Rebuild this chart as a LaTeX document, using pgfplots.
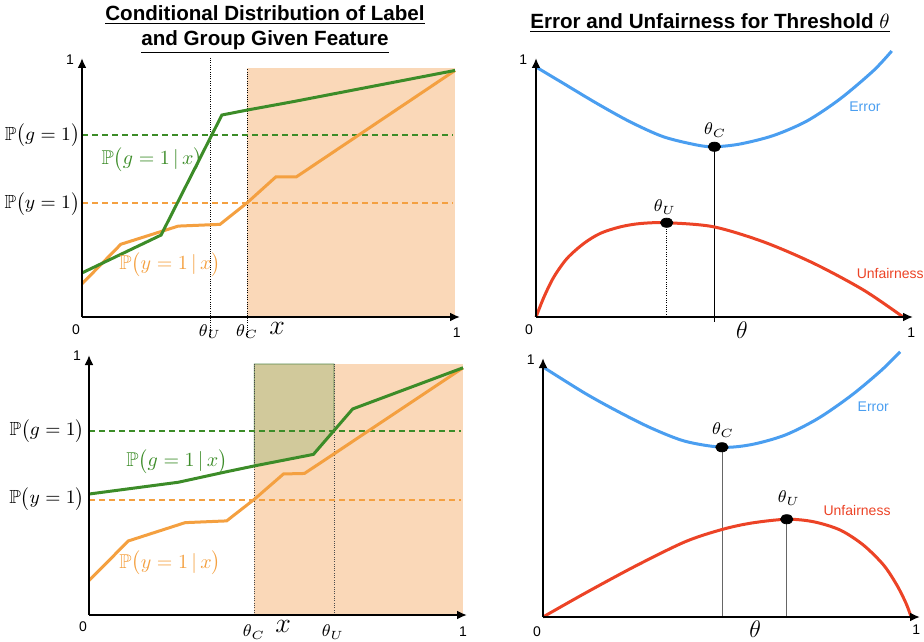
\documentclass[border=0pt]{standalone}
\usepackage{fix-cm}
\usepackage{amssymb}
\usepackage{fontspec}
\newfontfamily\hel{Liberation Sans}
\usepackage{pgfplots}
\pgfplotsset{compat=1.18}
\usetikzlibrary{arrows.meta}
\definecolor{cgreen}{RGB}{60,140,40}
\definecolor{corange}{RGB}{244,160,64}
\definecolor{cpeach}{RGB}{250,216,184}
\definecolor{colive}{RGB}{209,201,155}
\definecolor{cblue}{RGB}{74,158,240}
\definecolor{cred}{RGB}{236,67,38}
\pgfplotsset{
  panel/.style={scale only axis, axis lines=left,
    axis line style={line width=1.1pt, -{Latex[length=5pt,width=4.5pt]}},
    xmin=0, ymin=0, xtick=\empty, ytick=\empty, clip=false,
    anchor=south west, axis on top},
  curve/.style={line width=1.5pt},
  hdash/.style={line width=0.85pt, dash pattern=on 3pt off 2pt},
  vdot/.style={line width=0.45pt, dash pattern=on 0.45pt off 0.7pt, black},
}
\tikzset{plab/.style={anchor=east, inner sep=0pt, font=\fontsize{9.5}{11}\selectfont}}
\newcommand{\tk}{\hel\fontsize{7}{8}\selectfont}
\newcommand{\thsz}{\fontsize{8.5}{10}\selectfont}
\begin{document}
\begin{tikzpicture}
\path[use as bounding box] (0,0) rectangle (462pt,-320.5pt);
% titles
\node[align=center, font=\hel\bfseries\fontsize{10.3}{12.5}\selectfont] at (132.5pt,-14.75pt)
  {\underline{Conditional Distribution of Label}\\\underline{and Group Given Feature}};
\node[font=\hel\bfseries\fontsize{10.3}{12.5}\selectfont] at (355pt,-11.5pt)
  {\underline{Error and Unfairness for Threshold $\theta$}};

% ---------------- top left
\begin{axis}[panel, at={(41pt,-158.5pt)}, width=189pt, height=129.5pt, xmax=1.0134, ymax=1.04]
\addplot[draw=none, fill=cpeach] coordinates {(0.443,0) (1,0) (1,1) (0.443,1)} -- cycle;
\addplot[vdot] coordinates {(0.345,-0.08) (0.345,1.04)};
\addplot[vdot] coordinates {(0.443,-0.08) (0.443,1)};
\addplot[hdash, cgreen] coordinates {(0,0.731) (0.995,0.731)};
\addplot[hdash, corange] coordinates {(0,0.459) (0.995,0.459)};
\addplot[curve, corange] coordinates {(0,0.133) (0.104,0.292) (0.258,0.365) (0.370,0.372) (0.443,0.459) (0.520,0.563) (0.575,0.563) (1,0.99)};
\addplot[curve, cgreen] coordinates {(0,0.177) (0.212,0.329) (0.375,0.811) (0.443,0.831) (0.567,0.865) (1,0.99)};
\node[plab] at (-0.005,0.731) {$\mathbb{P}\big(g=1\big)$};
\node[plab] at (-0.005,0.456) {$\mathbb{P}\big(y=1\big)$};
\node[text=cgreen] at (0.188,0.631) {$\mathbb{P}\big(g=1\,|\,x\big)$};
\node[text=corange] at (0.236,0.209) {$\mathbb{P}\big(y=1\,|\,x\big)$};
\node at (0.343,-0.06) {\thsz$\theta_U$};
\node at (0.443,-0.06) {\thsz$\theta_C$};
\node at (0.523,-0.045) {\fontsize{14}{16}\selectfont$x$};
\node at (-0.016,-0.052) {\tk 0};
\node at (1.005,-0.064) {\tk 1};
\node at (-0.032,1.032) {\tk 1};
\end{axis}

% ---------------- bottom left
\begin{axis}[panel, at={(44.5pt,-307.5pt)}, width=189pt, height=130pt, xmax=1.0107, ymax=1.036]
\addplot[draw=none, fill=cpeach] coordinates {(0.442,0) (1,0) (1,1) (0.442,1)} -- cycle;
\addplot[fill=colive, draw=cgreen!60!gray, line width=0.4pt] coordinates {(0.442,0.594) (0.600,0.640) (0.655,0.735) (0.655,1) (0.442,1)} -- cycle;
\addplot[vdot, black!70] coordinates {(0.442,0) (0.442,1)};
\addplot[vdot, black!70] coordinates {(0.655,0) (0.655,1)};
\addplot[hdash, cgreen] coordinates {(0,0.734) (0.995,0.734)};
\addplot[hdash, corange] coordinates {(0,0.458) (0.995,0.458)};
\addplot[curve, corange] coordinates {(0,0.137) (0.105,0.295) (0.257,0.368) (0.368,0.375) (0.442,0.461) (0.520,0.562) (0.576,0.564) (0.653,0.640) (1,0.985)};
\addplot[curve, cgreen] coordinates {(0,0.482) (0.239,0.529) (0.368,0.571) (0.442,0.594) (0.600,0.640) (0.705,0.821) (1,0.985)};
\node[plab] at (-0.011,0.734) {$\mathbb{P}\big(g=1\big)$};
\node[plab] at (-0.011,0.465) {$\mathbb{P}\big(y=1\big)$};
\node[text=cgreen] at (0.235,0.610) {$\mathbb{P}\big(g=1\,|\,x\big)$};
\node[text=corange] at (0.217,0.207) {$\mathbb{P}\big(y=1\,|\,x\big)$};
\node at (0.441,-0.068) {\thsz$\theta_C$};
\node at (0.519,-0.045) {\fontsize{14}{16}\selectfont$x$};
\node at (0.652,-0.068) {\thsz$\theta_U$};
\node at (-0.016,-0.048) {\tk 0};
\node at (1.0,-0.068) {\tk 1};
\node at (-0.032,1.032) {\tk 1};
\end{axis}

% ---------------- top right
\begin{axis}[panel, at={(268pt,-158.5pt)}, width=188.5pt, height=129.5pt, xmax=1.027, ymax=1.036]
\addplot[line width=0.5pt, black] coordinates {(0.486,-0.02) (0.486,0.681)};
\addplot[vdot] coordinates {(0.356,0) (0.356,0.377)};
\addplot[curve, cblue, smooth] coordinates {(0,1.0) (0.074,0.935) (0.165,0.855) (0.256,0.781) (0.347,0.721) (0.438,0.688) (0.486,0.681) (0.556,0.692) (0.647,0.726) (0.738,0.784) (0.828,0.872) (0.919,0.985) (0.969,1.064)};
\addplot[curve, cred, smooth] coordinates {(0,0) (0.022,0.081) (0.049,0.161) (0.085,0.235) (0.131,0.295) (0.176,0.335) (0.231,0.361) (0.285,0.374) (0.356,0.377) (0.483,0.361) (0.619,0.301) (0.756,0.215) (0.892,0.108) (1,0)};
\addplot[only marks, mark=*, mark size=2.3pt, mark options={black, xscale=1.35}] coordinates {(0.486,0.681) (0.356,0.377)};
\node[text=cblue, font=\hel\fontsize{7}{8}\selectfont] at (0.896,0.84) {Error};
\node[text=cred, font=\hel\fontsize{7}{8}\selectfont] at (0.965,0.176) {Unfairness};
\node at (0.488,0.748) {\thsz$\theta_C$};
\node at (0.351,0.44) {\thsz$\theta_U$};
\node at (0.561,-0.052) {\fontsize{12}{14}\selectfont$\theta$};
\node at (-0.019,-0.052) {\tk 0};
\node at (1.022,-0.064) {\tk 1};
\node at (-0.035,1.028) {\tk 1};
\end{axis}

% ---------------- bottom right
\begin{axis}[panel, at={(271.5pt,-308.5pt)}, width=188.5pt, height=129.5pt, xmax=1.024, ymax=1.036]
\addplot[line width=0.4pt, black!60] coordinates {(0.486,0) (0.486,0.679)};
\addplot[line width=0.4pt, black!60] coordinates {(0.662,0) (0.662,0.391)};
\addplot[curve, cblue, smooth] coordinates {(0,1.0) (0.114,0.895) (0.205,0.821) (0.295,0.755) (0.386,0.703) (0.486,0.679) (0.567,0.690) (0.658,0.728) (0.748,0.795) (0.839,0.888) (0.920,0.988) (0.970,1.061)};
\addplot[curve, cred, smooth] coordinates {(0,0) (0.114,0.095) (0.25,0.203) (0.386,0.301) (0.486,0.350) (0.567,0.376) (0.662,0.391) (0.735,0.381) (0.807,0.348) (0.870,0.288) (0.925,0.208) (0.961,0.128) (0.986,0.055) (1,0)};
\addplot[only marks, mark=*, mark size=2.3pt, mark options={black, xscale=1.35}] coordinates {(0.486,0.679) (0.662,0.391)};
\node[text=cblue, font=\hel\fontsize{7}{8}\selectfont] at (0.897,0.84) {Error};
\node[text=cred, font=\hel\fontsize{7}{8}\selectfont] at (0.853,0.428) {Unfairness};
\node at (0.489,0.748) {\thsz$\theta_C$};
\node at (0.668,0.476) {\thsz$\theta_U$};
\node at (0.576,-0.05) {\fontsize{12}{14}\selectfont$\theta$};
\node at (-0.016,-0.06) {\tk 0};
\node at (1.014,-0.052) {\tk 1};
\node at (-0.033,1.028) {\tk 1};
\end{axis}
\end{tikzpicture}
\end{document}
